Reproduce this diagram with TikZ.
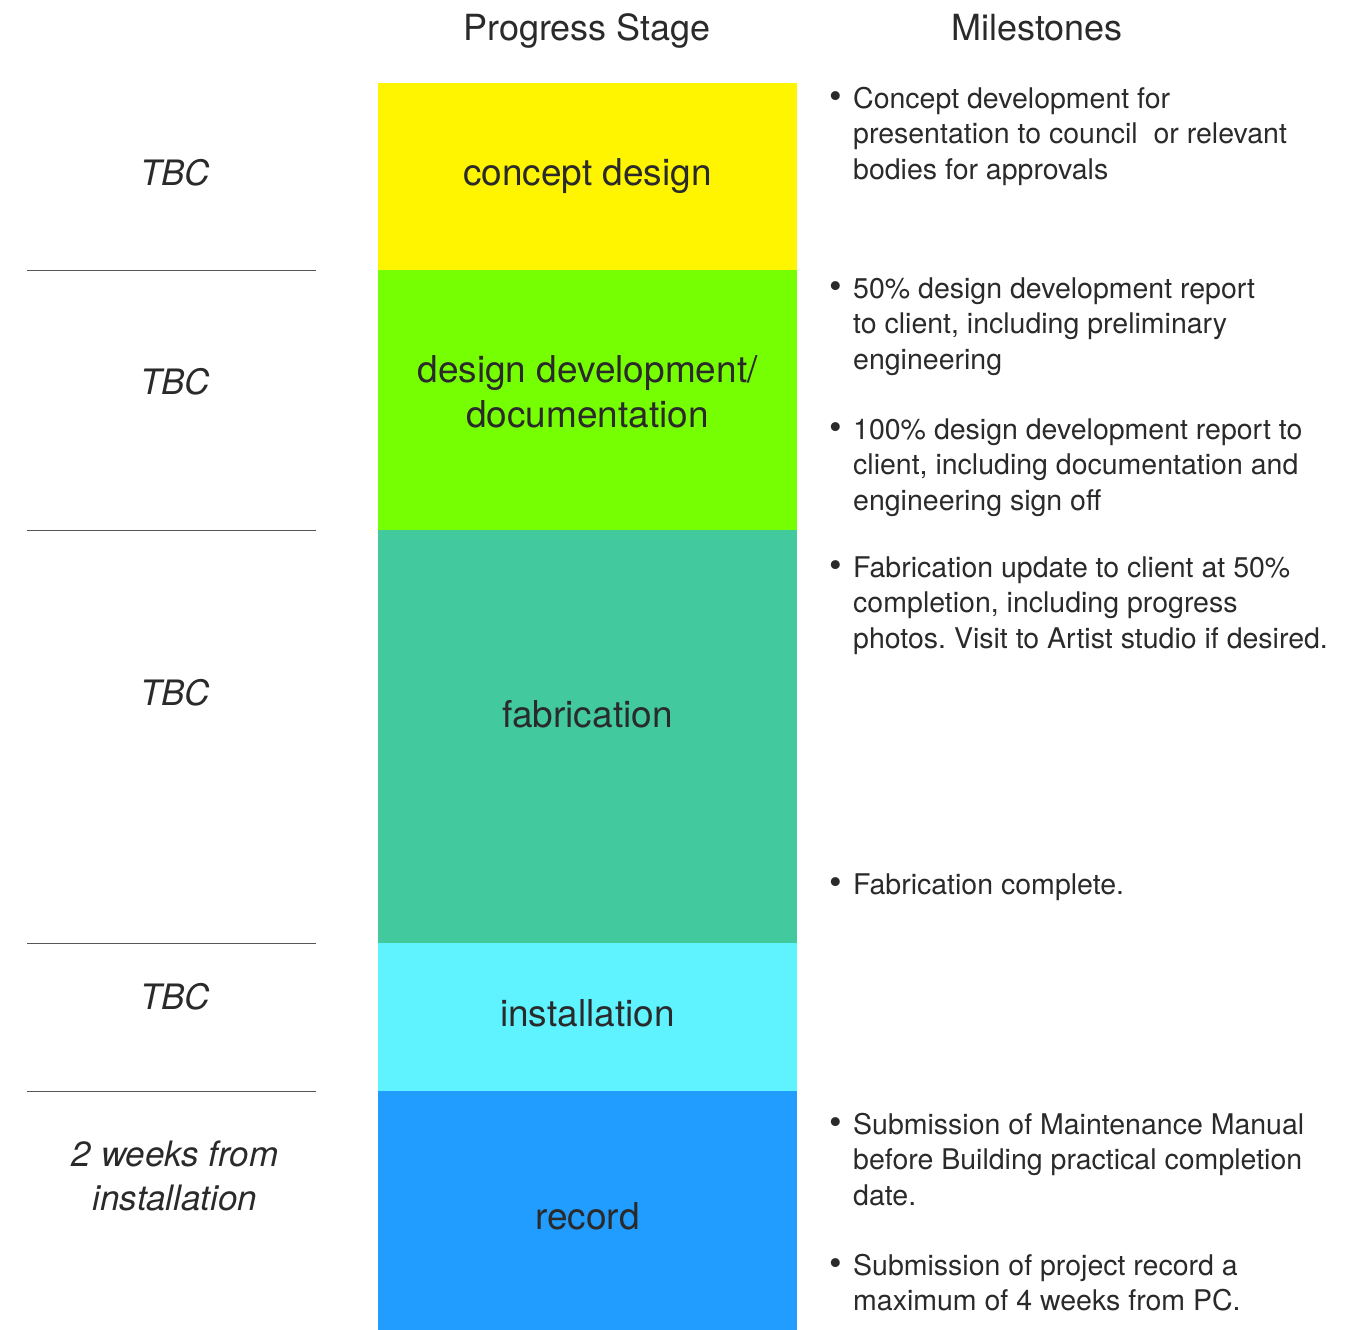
\documentclass[tikz,border=0pt]{standalone}
\usepackage{fontspec}
\setmainfont{TeX Gyre Heros}
\usetikzlibrary{positioning}
\frenchspacing

\definecolor{stageyellow}{HTML}{FFF500}
\definecolor{stagegreen}{HTML}{76FF03}
\definecolor{stageteal}{HTML}{42CA9E}
\definecolor{stagecyan}{HTML}{5EF3FF}
\definecolor{stageblue}{HTML}{219CFF}
\definecolor{inkgray}{HTML}{2A2A2A}
\definecolor{rulegray}{HTML}{555555}

\newcommand{\headfont}{\fontsize{36}{45}\selectfont}
\newcommand{\stagefont}{\fontsize{37}{45}\selectfont}
\newcommand{\timefont}{\fontsize{35}{44}\selectfont\itshape}
\newcommand{\milefont}{\fontsize{28.5}{35.5}\selectfont}
\newcommand{\rows}[2]{\begin{tabular}[t]{@{}#1@{}}#2\end{tabular}}
\newcommand{\bul}{\llap{{\fontsize{36}{36}\selectfont\textbullet}\hspace{11pt}}}

\begin{document}
\begin{tikzpicture}[x=1pt,y=-1pt,inner sep=0pt,text=inkgray]
  \tikzstyle{head}=[anchor=base,font=\headfont]
  \tikzstyle{stage}=[anchor=base,font=\stagefont]
  \tikzstyle{time}=[anchor=base,font=\timefont]
  \tikzstyle{mile}=[anchor=base west,font=\milefont]
  \tikzstyle{rule}=[draw=rulegray,line width=1pt]

  \useasboundingbox (0,0) rectangle (1363,1330);

  % headers
  \node[head] (H1) at (587,41)  {Progress Stage};
  \node[head] (H2) at (1037,41) {Milestones};

  % stage column
  \fill[stageyellow] (378,83)   rectangle (797,270);
  \fill[stagegreen]  (378,270)  rectangle (797,530);
  \fill[stageteal]   (378,530)  rectangle (797,943);
  \fill[stagecyan]   (378,943)  rectangle (797,1091);
  \fill[stageblue]   (378,1091) rectangle (797,1330);

  \node[stage] (A) at (587.5,185)  {concept design};
  \node[stage] (B) at (587.5,382)  {\rows{c}{design development/\\documentation}};
  \node[stage] (C) at (587.5,727)  {fabrication};
  \node[stage] (D) at (587.5,1026) {installation};
  \node[stage] (E) at (587.5,1229) {record};

  % time column
  \foreach \y in {270,530,943,1091}
    \draw[rule] (27,\y) -- (316,\y);

  \node[time] (T1) at (175,185)  {TBC};
  \node[time] (T2) at (175,394)  {TBC};
  \node[time] (T3) at (175,705)  {TBC};
  \node[time] (T4) at (175,1009) {TBC};
  \node[time] (T5) at (175,1166) {\rows{c}{2 weeks from\\installation}};

  % milestones
  \node[mile] (M1) at (853,108)  {\rows{l}{\bul Concept development for\\presentation to council\ \ or relevant\\bodies for approvals}};
  \node[mile] (M2) at (853,298)  {\rows{l}{\bul 50\% design development report\\to client, including preliminary\\engineering}};
  \node[mile] (M3) at (853,439)  {\rows{l}{\bul 100\% design development report to\\client, including documentation and\\engineering sign off}};
  \node[mile] (M4) at (853,577)  {\rows{l}{\bul Fabrication update to client at 50\%\\completion, including progress\\photos. Visit to Artist studio if desired.}};
  \node[mile] (M5) at (853,894)  {\bul Fabrication complete.};
  \node[mile] (M6) at (853,1134) {\rows{l}{\bul Submission of Maintenance Manual\\before Building practical completion\\date.}};
  \node[mile] (M7) at (853,1275) {\rows{l}{\bul Submission of project record a\\maximum of 4 weeks from PC.}};
\end{tikzpicture}
\end{document}
